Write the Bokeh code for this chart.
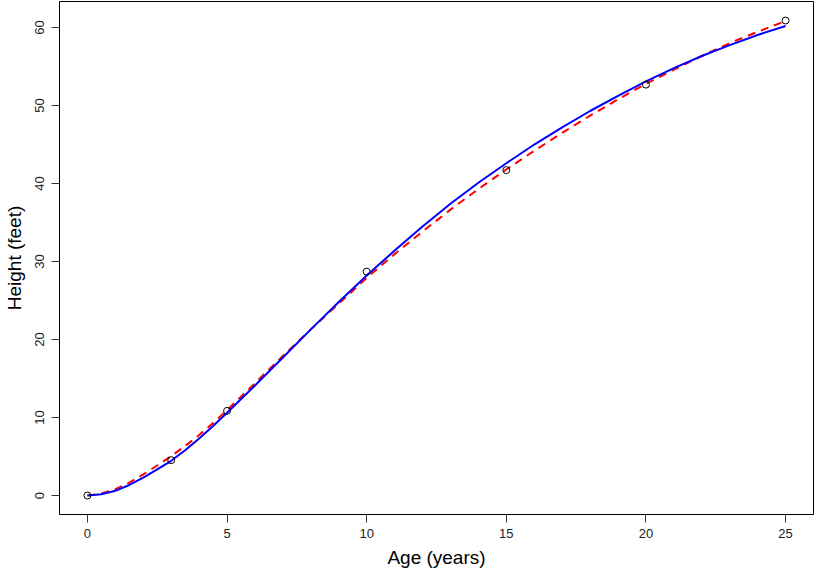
from bokeh.plotting import figure
from bokeh.models import Range1d, FixedTicker
from bokeh.embed import file_html
from bokeh.resources import INLINE

# observed data
obs_age = [0, 3, 5, 10, 15, 20, 25]
obs_height = [0.0, 4.53, 10.85, 28.7, 41.72, 52.68, 60.9]

# fitted curves
curve_age = [0, 0.5, 1, 1.5, 2, 2.5, 3, 3.5, 4, 4.5, 5,
             6, 7, 8, 9, 10, 11, 12, 13, 14, 15,
             16, 17, 18, 19, 20, 21, 22, 23, 24, 25]
blue_fit = [0.0, 0.15, 0.6, 1.35, 2.3, 3.35, 4.45, 5.8, 7.3, 8.9, 10.6,
            14.1, 17.7, 21.3, 24.8, 28.2, 31.4, 34.5, 37.4, 40.1, 42.6,
            45.0, 47.2, 49.3, 51.25, 53.1, 54.8, 56.35, 57.75, 59.05, 60.2]
red_fit = [0.0, 0.25, 0.8, 1.65, 2.7, 3.85, 5.05, 6.35, 7.75, 9.3, 10.95,
           14.4, 17.9, 21.3, 24.6, 27.9, 30.95, 33.85, 36.65, 39.3, 41.8,
           44.2, 46.5, 48.7, 50.8, 52.8, 54.6, 56.35, 58.0, 59.45, 60.85]

x_ticks = [0, 5, 10, 15, 20, 25]
y_ticks = [0, 10, 20, 30, 40, 50, 60]

FONT = "Liberation Sans"

p = figure(width=814, height=570, output_backend="svg", toolbar_location=None,
           x_range=Range1d(-1, 26), y_range=Range1d(-2.436, 63.34),
           min_border_left=54, min_border_right=1, min_border_top=1,
           min_border_bottom=50)
p.background_fill_color = "white"
p.border_fill_color = "white"
p.outline_line_color = "black"
p.outline_line_width = 1
p.xgrid.visible = False
p.ygrid.visible = False

for ax in (p.xaxis[0], p.yaxis[0]):
    ax.axis_line_color = None
    ax.major_tick_line_color = "#333333"
    ax.major_tick_in = 0
    ax.major_tick_out = 8
    ax.minor_tick_line_color = None
    ax.major_label_text_font = FONT
    ax.major_label_text_font_size = "13px"
    ax.major_label_text_color = "#222222"
    ax.axis_label_text_font = FONT
    ax.axis_label_text_font_size = "19px"
    ax.axis_label_text_font_style = "normal"
    ax.axis_label_text_color = "black"

p.xaxis.ticker = FixedTicker(ticks=x_ticks)
p.yaxis.ticker = FixedTicker(ticks=y_ticks)
p.xaxis.axis_label = "Age (years)"
p.yaxis.axis_label = "Height (feet)"
p.yaxis.major_label_orientation = "vertical"
p.xaxis.major_label_standoff = 6
p.yaxis.major_label_standoff = 7
p.xaxis.axis_label_standoff = 6
p.yaxis.axis_label_standoff = 8

p.line(curve_age, red_fit, line_color="red", line_width=2, line_dash="8 6")
p.line(curve_age, blue_fit, line_color="blue", line_width=2)
p.scatter(obs_age, obs_height, marker="circle", size=7, fill_color=None,
          line_color="black", line_width=1)

open("out.html", "w").write(file_html(p, INLINE))
